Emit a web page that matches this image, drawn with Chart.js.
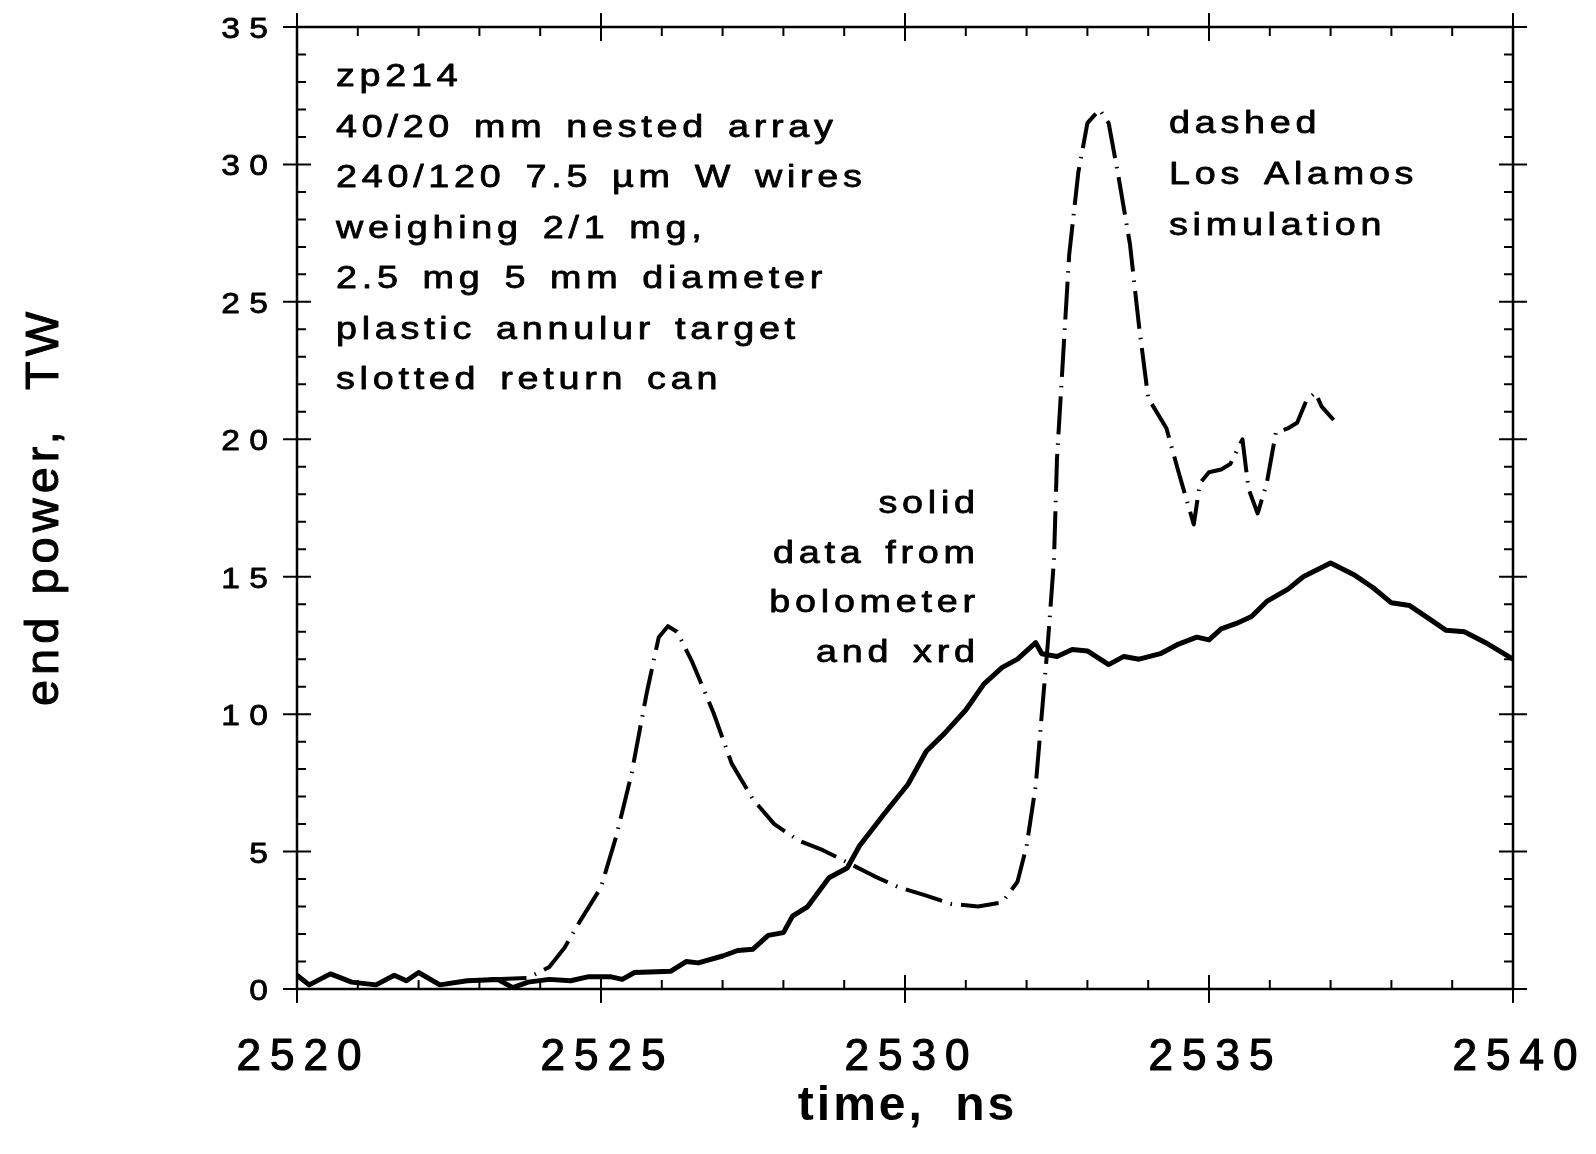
<!DOCTYPE html>
<html>
<head>
<meta charset="utf-8">
<script src="https://cdn.jsdelivr.net/npm/chart.js@4/dist/chart.umd.min.js"></script>
<style>
  html, body { margin: 0; padding: 0; background: #fff; }
  #wrap { width: 1596px; height: 1154px; position: relative; }
</style>
</head>
<body>
<div id="wrap"><canvas id="c" width="1596" height="1154"></canvas></div>
<script>
// ---- data ----
const solidTime = [2520.0, 2520.2, 2520.55, 2520.9, 2521.3, 2521.6, 2521.8, 2522.0, 2522.35, 2522.8, 2523.3, 2523.55, 2523.8, 2524.15, 2524.5, 2524.8, 2525.15, 2525.35, 2525.55, 2526.15, 2526.4, 2526.6, 2527.0, 2527.25, 2527.5, 2527.75, 2528.0, 2528.15, 2528.4, 2528.75, 2529.05, 2529.25, 2529.65, 2530.05, 2530.35, 2530.65, 2531.0, 2531.3, 2531.6, 2531.85, 2532.15, 2532.25, 2532.5, 2532.75, 2533.0, 2533.35, 2533.6, 2533.85, 2534.2, 2534.5, 2534.8, 2535.0, 2535.2, 2535.45, 2535.7, 2535.95, 2536.3, 2536.55, 2537.0, 2537.4, 2537.7, 2538.0, 2538.3, 2538.6, 2538.9, 2539.2, 2539.55, 2540.0];
const solidPower = [0.5, 0.15, 0.55, 0.25, 0.15, 0.5, 0.3, 0.6, 0.15, 0.3, 0.35, 0.05, 0.25, 0.35, 0.3, 0.45, 0.45, 0.35, 0.6, 0.65, 1.0, 0.95, 1.2, 1.4, 1.45, 1.95, 2.05, 2.65, 3.0, 4.05, 4.4, 5.2, 6.35, 7.45, 8.65, 9.3, 10.15, 11.1, 11.7, 12.0, 12.6, 12.2, 12.1, 12.35, 12.3, 11.8, 12.1, 12.0, 12.2, 12.55, 12.8, 12.7, 13.1, 13.3, 13.55, 14.1, 14.55, 15.0, 15.5, 15.05, 14.6, 14.05, 13.95, 13.5, 13.05, 13.0, 12.6, 12.0];

const simTime = [2523.15, 2523.8, 2524.15, 2524.4, 2524.65, 2525.0, 2525.25, 2525.5, 2525.75, 2525.95, 2526.1, 2526.25, 2526.5, 2526.85, 2527.15, 2527.5, 2527.85, 2528.25, 2528.65, 2529.1, 2529.5, 2529.9, 2530.35, 2530.75, 2531.2, 2531.6, 2531.85, 2532.0, 2532.15, 2532.25, 2532.35, 2532.45, 2532.5, 2532.6, 2532.7, 2532.85, 2533.0, 2533.2, 2533.35, 2533.5, 2533.7, 2533.85, 2534.0, 2534.3, 2534.5, 2534.75, 2534.85, 2535.0, 2535.2, 2535.35, 2535.55, 2535.65, 2535.8, 2535.95, 2536.1, 2536.3, 2536.45, 2536.6, 2536.75, 2536.85, 2537.05];
const simPower = [0.35, 0.4, 0.8, 1.5, 2.45, 3.7, 5.55, 7.8, 10.75, 12.8, 13.2, 13.0, 11.9, 10.05, 8.2, 6.9, 6.0, 5.4, 5.05, 4.55, 4.1, 3.7, 3.4, 3.1, 3.0, 3.15, 3.9, 5.2, 7.4, 10.0, 12.6, 15.6, 19.3, 23.0, 26.7, 29.7, 31.5, 32.0, 31.5, 29.7, 27.1, 24.1, 21.5, 20.4, 18.8, 16.9, 18.4, 18.8, 18.9, 19.1, 20.0, 18.2, 17.3, 18.4, 20.25, 20.4, 20.6, 21.4, 21.7, 21.2, 20.7];

const xTickValues = [2520, 2525, 2530, 2535, 2540];
const xTickLabels = ['2520', '2525', '2530', '2535', '2540'];
const yTickValues = [0, 5, 10, 15, 20, 25, 30, 35];
const yTickLabels = ['0', '5', '1 0', '1 5', '2 0', '2 5', '3 0', '3 5'];

const xTitle = 'time, ns';
const yTitle = 'end power,  TW';
const infoLines = ['zp214', '40/20 mm nested array', '240/120 7.5 µm W wires', 'weighing 2/1 mg,', '2.5 mg 5 mm diameter', 'plastic annulur target', 'slotted return can'];
const simLabel = ['dashed', 'Los Alamos', 'simulation'];
const dataLabel = ['solid', 'data from', 'bolometer', 'and xrd'];

// ---- drawing helpers ----
function drawText(ctx, text, x, y, o) {
  ctx.save();
  ctx.translate(x, y);
  if (o.rotate) ctx.rotate(o.rotate);
  ctx.scale(o.sx || 1, 1);
  ctx.font = o.font;
  ctx.fillStyle = '#000';
  ctx.strokeStyle = '#000';
  ctx.lineWidth = o.stroke || 0;
  ctx.lineJoin = 'round';
  ctx.letterSpacing = (o.ls || 0) + 'px';
  ctx.wordSpacing = (o.ws || 0) + 'px';
  ctx.textBaseline = 'alphabetic';
  const w = ctx.measureText(text).width - (o.ls || 0);
  let dx = 0;
  if (o.align === 'center') dx = -w / 2;
  else if (o.align === 'right') dx = -w;
  ctx.textAlign = 'left';
  ctx.fillText(text, dx, 0);
  if (o.stroke) ctx.strokeText(text, dx, 0);
  ctx.restore();
}

const FONT = '"Liberation Sans", Arial, sans-serif';

const framePlugin = {
  id: 'frame',
  afterDatasetsDraw(chart) {
    const ctx = chart.ctx;
    const xs = chart.scales.x, ys = chart.scales.y;
    const a = chart.chartArea;
    ctx.save();
    ctx.strokeStyle = '#000';
    ctx.lineWidth = 2.5;
    ctx.lineCap = 'butt';
    ctx.strokeRect(a.left, a.top, a.right - a.left, a.bottom - a.top);
    ctx.lineWidth = 2;
    ctx.beginPath();
    for (let v = xs.min; v <= xs.max + 1e-9; v += 1) {
      const px = xs.getPixelForValue(v);
      const major = Math.abs((v - xs.min) % 5) < 1e-6;
      if (major) {
        ctx.moveTo(px, a.bottom - 14); ctx.lineTo(px, a.bottom + 14);
        ctx.moveTo(px, a.top - 14); ctx.lineTo(px, a.top + 14);
      } else {
        ctx.moveTo(px, a.bottom); ctx.lineTo(px, a.bottom - 9);
        ctx.moveTo(px, a.top); ctx.lineTo(px, a.top + 9);
      }
    }
    for (let v = ys.min; v <= ys.max + 1e-9; v += 1) {
      const py = ys.getPixelForValue(v);
      const major = Math.abs(v % 5) < 1e-6;
      if (major) {
        ctx.moveTo(a.left - 14, py); ctx.lineTo(a.left + 14, py);
        ctx.moveTo(a.right - 14, py); ctx.lineTo(a.right + 14, py);
      } else {
        ctx.moveTo(a.left, py); ctx.lineTo(a.left + 9, py);
        ctx.moveTo(a.right, py); ctx.lineTo(a.right - 9, py);
      }
    }
    ctx.stroke();
    ctx.restore();

    // tick labels from the scales
    xs.ticks.forEach((t) => {
      const i = xTickValues.indexOf(t.value);
      if (i < 0) return;
      drawText(ctx, xTickLabels[i], xs.getPixelForValue(t.value) + 2, 1070,
        { font: '44px ' + FONT, ls: 9, align: 'center', stroke: 1.2 });
    });
    ys.ticks.forEach((t) => {
      const i = yTickValues.indexOf(t.value);
      if (i < 0) return;
      drawText(ctx, yTickLabels[i], 268, ys.getPixelForValue(t.value) + 11,
        { font: '30px ' + FONT, sx: 1.12, align: 'right', stroke: 0.8 });
    });

    // axis titles
    drawText(ctx, xTitle, 906, 1120,
      { font: 'bold 48px ' + FONT, ls: 3, ws: 14, align: 'center' });
    drawText(ctx, yTitle, 58, 509,
      { font: '47px ' + FONT, ls: 5, ws: 0, align: 'center', rotate: -Math.PI / 2, stroke: 1 });

    // annotations
    const ann = { font: '32px ' + FONT, sx: 1.18, ls: 4, ws: 4, stroke: 0.8 };
    infoLines.forEach((s, i) => drawText(ctx, s, 336, 86 + i * 50.5, ann));
    simLabel.forEach((s, i) => drawText(ctx, s, 1169, 133 + i * 51, ann));
    dataLabel.forEach((s, i) => drawText(ctx, s, 975, 513 + i * 49.5, Object.assign({ align: 'right' }, ann)));
  }
};

const ctx = document.getElementById('c').getContext('2d');
new Chart(ctx, {
  type: 'line',
  data: {
    datasets: [
      {
        label: 'data from bolometer and xrd',
        data: solidTime.map((t, i) => ({ x: t, y: solidPower[i] })),
        borderColor: '#000',
        borderWidth: 5,
        pointRadius: 0,
        tension: 0,
        borderJoinStyle: 'round',
        borderCapStyle: 'round',
        fill: false
      },
      {
        label: 'Los Alamos simulation',
        data: simTime.map((t, i) => ({ x: t, y: simPower[i] })),
        borderColor: '#000',
        borderWidth: 4,
        borderDash: [38, 9, 1.5, 9],
        pointRadius: 0,
        tension: 0,
        borderJoinStyle: 'round',
        fill: false
      }
    ]
  },
  options: {
    responsive: false,
    animation: false,
    devicePixelRatio: 1,
    layout: { padding: { left: 0, top: 27, right: 83, bottom: 0 } },
    plugins: { legend: { display: false }, tooltip: { enabled: false } },
    scales: {
      x: {
        type: 'linear', min: 2520, max: 2540,
        ticks: { stepSize: 5, display: false },
        grid: { display: false },
        border: { display: false },
        afterFit(scale) { scale.height = 165; }
      },
      y: {
        type: 'linear', min: 0, max: 35,
        ticks: { stepSize: 5, display: false },
        grid: { display: false },
        border: { display: false },
        afterFit(scale) { scale.width = 297; }
      }
    }
  },
  plugins: [framePlugin]
});
</script>
</body>
</html>
